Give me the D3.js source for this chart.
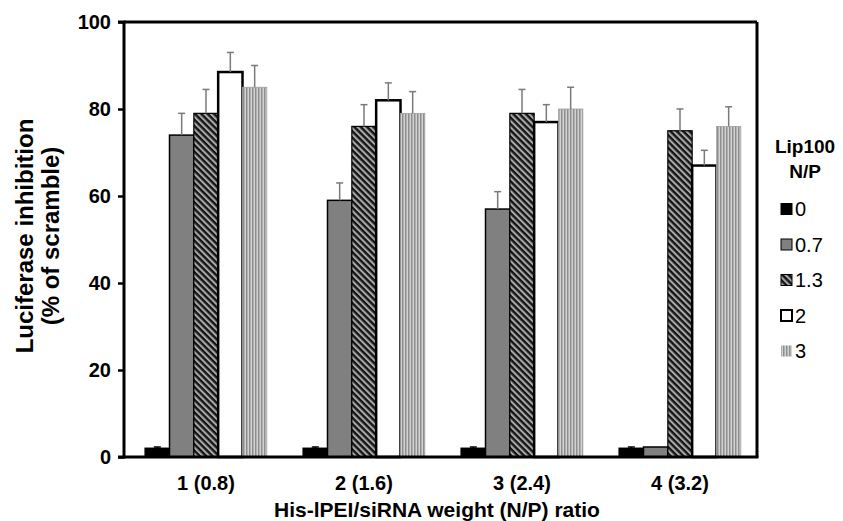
<!DOCTYPE html>
<html><head><meta charset="utf-8">
<script src="https://cdn.jsdelivr.net/npm/d3@7"></script>
<style>body{margin:0;background:#fff}svg{display:block;font-family:"Liberation Sans",Arial,sans-serif}</style>
</head><body><svg id="c" width="843" height="521"></svg>
<script>
const categories = ["1 (0.8)", "2 (1.6)", "3 (2.4)", "4 (3.2)"];
const seriesNames = ["0", "0.7", "1.3", "2", "3"];
const s0 = [2, 2, 2, 2];
const s07 = [74, 59, 57, 2.3];
const s13 = [79, 76, 79, 75];
const s2 = [88.5, 82, 77, 67];
const s3 = [85, 79, 80, 76];
const e0 = [0.3, 0.3, 0.3, 0.3];
const e07 = [5, 4, 4, 0];
const e13 = [5.5, 5, 5.5, 5];
const e2 = [4.5, 4, 4, 3.5];
const e3 = [5, 5, 5, 4.5];
const yTicks = [0, 20, 40, 60, 80, 100];
const yTitle = ["Luciferase inhibition", "(% of scramble)"];
const xTitle = "His-lPEI/siRNA weight (N/P) ratio";
const legendTitle = ["Lip100", "N/P"];

const values = [s0, s07, s13, s2, s3];
const errors = [e0, e07, e13, e2, e3];

const svg = d3.select("#c");
const L = 124, R = 757, T = 22, B = 457;

const defs = svg.append("defs");
const hatch = defs.append("pattern").attr("id", "hatch").attr("patternUnits", "userSpaceOnUse")
  .attr("width", 4.5).attr("height", 4.5).attr("patternTransform", "rotate(45)");
hatch.append("rect").attr("width", 4.5).attr("height", 4.5).attr("fill", "#a8a8a8");
hatch.append("rect").attr("width", 4.5).attr("height", 2.4).attr("fill", "#151515");
const vstripe = defs.append("pattern").attr("id", "vstripe").attr("patternUnits", "userSpaceOnUse")
  .attr("width", 3).attr("height", 3);
vstripe.append("rect").attr("width", 3).attr("height", 3).attr("fill", "#d2d2d2");
vstripe.append("rect").attr("width", 1.5).attr("height", 3).attr("fill", "#8e8e8e");

const fills = ["#000", "#808080", "url(#hatch)", "#fff", "url(#vstripe)"];
const strokes = ["#000", "#000", "#000", "#000", "#a0a0a0"];
const strokeW = [1.5, 1.5, 1.2, 2.5, 0.8];

const x0 = d3.scaleBand().domain(categories).range([L + 3, R + 2]).paddingInner(0.23).paddingOuter(0.115);
const x1 = d3.scaleBand().domain(seriesNames).range([0, x0.bandwidth()]);
const y = d3.scaleLinear().domain([0, 100]).range([B, T]);

// bars
const g = svg.append("g");
categories.forEach((c, ci) => {
  seriesNames.forEach((s, si) => {
    const v = values[si][ci];
    const bx = x0(c) + x1(s);
    g.append("rect").attr("x", bx).attr("y", y(v)).attr("width", x1.bandwidth()).attr("height", B - y(v))
      .attr("fill", fills[si]).attr("stroke", strokes[si]).attr("stroke-width", strokeW[si]);
  });
});
// error bars
categories.forEach((c, ci) => {
  seriesNames.forEach((s, si) => {
    const v = values[si][ci], e = errors[si][ci];
    if (e <= 0) return;
    const cx = x0(c) + x1(s) + x1.bandwidth() / 2;
    const col = si === 0 ? "#000" : "#7a7a7a";
    g.append("line").attr("x1", cx).attr("x2", cx).attr("y1", y(v)).attr("y2", y(v + e)).attr("stroke", col).attr("stroke-width", 1.5);
    g.append("line").attr("x1", cx - 3.5).attr("x2", cx + 3.5).attr("y1", y(v + e)).attr("y2", y(v + e)).attr("stroke", col).attr("stroke-width", 1.5);
  });
});

// frame
svg.append("line").attr("x1", L).attr("x2", R).attr("y1", T).attr("y2", T).attr("stroke", "#000").attr("stroke-width", 3);
svg.append("line").attr("x1", R).attr("x2", R).attr("y1", T).attr("y2", B).attr("stroke", "#000").attr("stroke-width", 3);
svg.append("line").attr("x1", L - 1).attr("x2", R + 1.5).attr("y1", B).attr("y2", B).attr("stroke", "#000").attr("stroke-width", 3);

// y axis
const yAxis = d3.axisLeft(y).tickValues(yTicks).tickSize(6).tickPadding(7).tickFormat(d3.format("d"));
const ya = svg.append("g").attr("transform", `translate(${L},0)`).call(yAxis);
ya.select(".domain").attr("stroke", "#000").attr("stroke-width", 3).attr("d", `M-6,${T}H0V${B}H-6`);
ya.selectAll(".tick line").attr("stroke", "#000").attr("stroke-width", 2.5);
ya.selectAll(".tick text").attr("font-size", 20).attr("font-weight", "bold").attr("fill", "#000").attr("font-family", "Liberation Sans, Arial, sans-serif");

// x labels
svg.append("g").selectAll("text").data(categories).join("text")
  .attr("x", d => x0(d) + x0.bandwidth() / 2).attr("y", 490).attr("text-anchor", "middle")
  .attr("font-size", 20).attr("font-weight", "bold").text(d => d);

svg.append("text").attr("x", 437).attr("y", 517).attr("text-anchor", "middle")
  .attr("font-size", 21).attr("font-weight", "bold").text(xTitle);

// y title
const yt = svg.append("text").attr("transform", "translate(0,236) rotate(-90)").attr("text-anchor", "middle")
  .attr("font-size", 24).attr("font-weight", "bold");
yt.append("tspan").attr("x", 0).attr("y", 33).text(yTitle[0]);
yt.append("tspan").attr("x", 0).attr("y", 59).text(yTitle[1]);

// legend
const lg = svg.append("g");
legendTitle.forEach((t, i) => lg.append("text").attr("x", 805).attr("y", 153 + i * 25).attr("text-anchor", "middle")
  .attr("font-size", 19).attr("font-weight", "bold").text(t));
seriesNames.forEach((s, i) => {
  const cy = 209 + i * 35.5;
  lg.append("rect").attr("x", 781).attr("y", cy - 5.5).attr("width", 11).attr("height", 11)
    .attr("fill", fills[i]).attr("stroke", i === 4 ? "none" : "#000").attr("stroke-width", i === 3 ? 2 : 1);
  lg.append("text").attr("x", 795).attr("y", cy + 7).attr("font-size", 20).text(s);
});
</script></body></html>
